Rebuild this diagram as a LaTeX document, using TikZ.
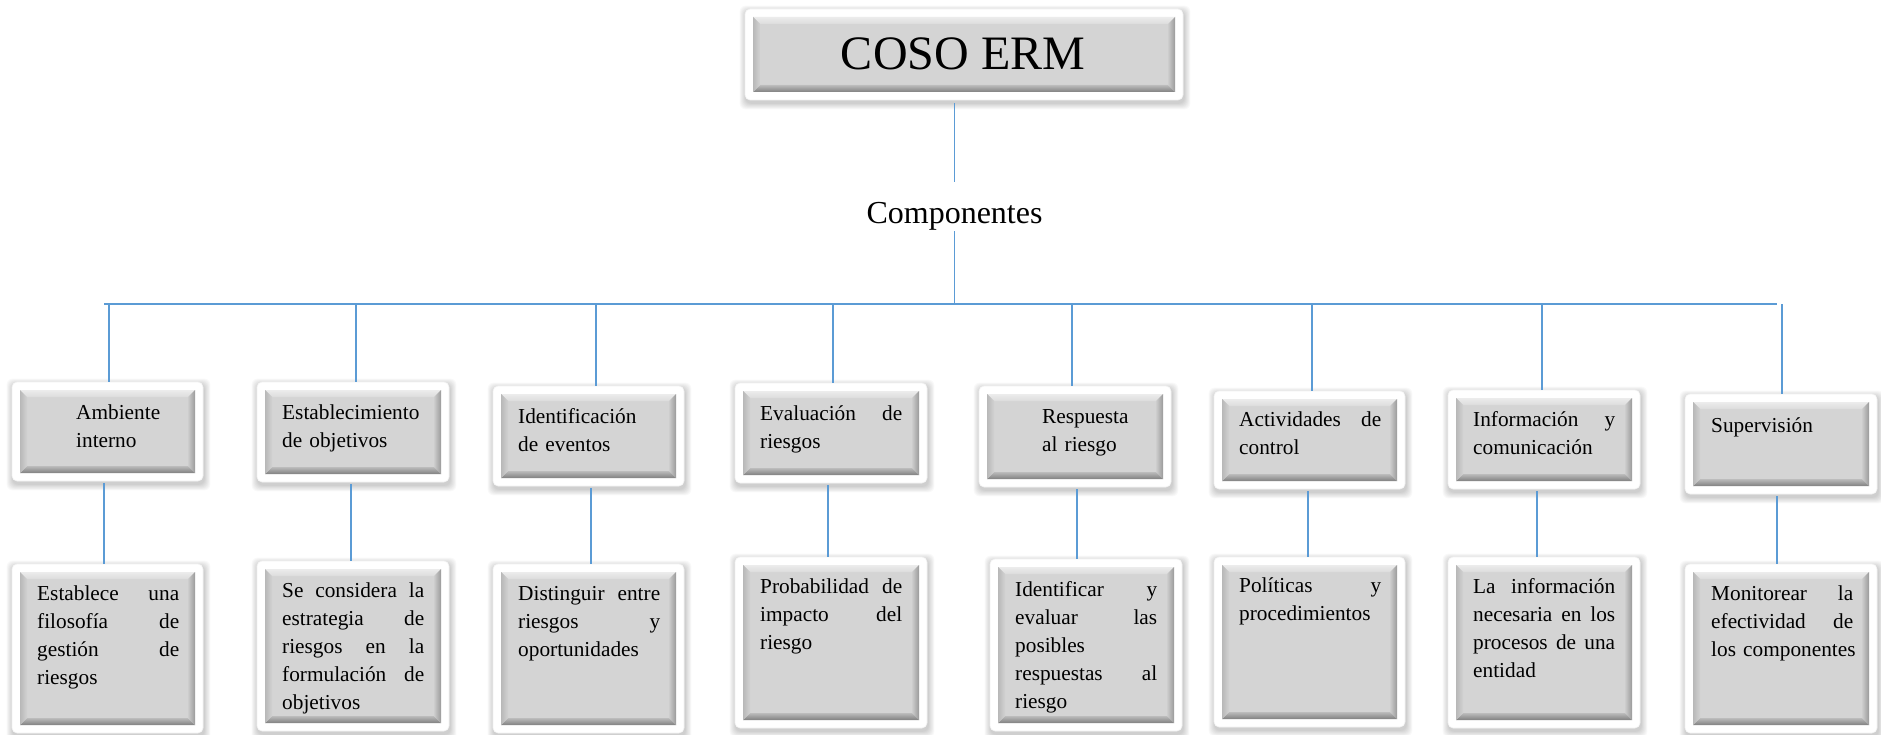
\documentclass[tikz,border=0pt]{standalone}
\usepackage{fontspec}
\setmainfont{Liberation Serif}
\definecolor{lnblue}{HTML}{5B9BD5}
\definecolor{bvbase}{HTML}{D4D4D4}
\definecolor{bvtopo}{HTML}{ECECEC}
\definecolor{bvtopi}{HTML}{DCDCDC}
\definecolor{bvboto}{HTML}{808080}
\definecolor{bvboti}{HTML}{BCBCBC}
\definecolor{bvlfo}{HTML}{B8B8B8}
\definecolor{bvlfi}{HTML}{D2D2D2}
\definecolor{bvrto}{HTML}{9A9A9A}
\definecolor{bvrti}{HTML}{CDCDCD}
\newcommand\erbev[4]{%
  \pgfmathsetmacro\ba{#1}\pgfmathsetmacro\bb{#2}\pgfmathsetmacro\bc{#3}\pgfmathsetmacro\bd{#4}%
  \fill[bvbase] (\ba,\bb) rectangle (\bc,\bd);
  \shade[top color=bvtopo,bottom color=bvtopi] (\ba,\bb) -- (\bc,\bb) -- (\bc-7,\bb+7) -- (\ba+7,\bb+7) -- cycle;
  \shade[top color=bvboti,bottom color=bvboto] (\ba,\bd) -- (\bc,\bd) -- (\bc-7,\bd-7) -- (\ba+7,\bd-7) -- cycle;
  \shade[left color=bvlfo,right color=bvlfi] (\ba,\bb) -- (\ba+7,\bb+7) -- (\ba+7,\bd-7) -- (\ba,\bd) -- cycle;
  \shade[left color=bvrti,right color=bvrto] (\bc,\bb) -- (\bc-7,\bb+7) -- (\bc-7,\bd-7) -- (\bc,\bd) -- cycle;
}
\newcommand\erbox[5]{%
  \foreach \k in {1,...,8}{%
    \fill[black,opacity=0.022,rounded corners=6pt] ({#2-0.8*\k+1},{#3-0.8*\k+3}) rectangle ({#4+0.8*\k+1},{#5+0.8*\k+3});}
  \node[wframe,minimum width={(#4-#2)*1pt},minimum height={(#5-#3)*1pt}] (#1) at ({(#2+#4)/2},{(#3+#5)/2}) {};
  \erbev{#2+8}{#3+8}{#4-8}{#5-8}%
}
\newcommand\jl[1]{\makebox[142pt][s]{\spaceskip=0pt\xspaceskip=0pt\relax #1}}
\begin{document}
\begin{tikzpicture}[x=1pt,y=-1pt,
  wframe/.style={rectangle,rounded corners=5pt,fill=white,draw=black!5,line width=0.6pt,inner sep=0pt,outer sep=0pt},
  conn/.style={draw=lnblue,line width=1.3pt},
  txt/.style={anchor=north west,inner sep=0pt,text width=142pt,align=left,font=\fontsize{21.3}{28}\selectfont}]
\useasboundingbox[fill=white] (0,0) rectangle (1881,735);

% title
\erbox{title}{745}{9}{1183}{100}
\node[anchor=base,inner sep=0pt,font=\fontsize{48}{56}\selectfont] (ttltxt) at (963,70) {COSO ERM};
\node[anchor=base,inner sep=0pt,text height=42pt,text depth=7pt,font=\fontsize{32}{38}\selectfont] (comp) at (954.5,224) {Componentes};

% component boxes
\erbox{c1}{12}{382}{203}{481}
\erbox{c2}{257}{382}{449}{482}
\erbox{c3}{493}{386}{684}{486}
\erbox{c4}{735}{383}{927}{483}
\erbox{c5}{979}{386}{1171}{487}
\erbox{c6}{1214}{391}{1405}{489}
\erbox{c7}{1448}{390}{1640}{489}
\erbox{c8}{1685}{394}{1877}{494}
% description boxes
\erbox{d1}{12}{564}{203}{733}
\erbox{d2}{257}{561}{449}{731}
\erbox{d3}{493}{564}{684}{733}
\erbox{d4}{735}{557}{927}{728}
\erbox{d5}{990}{559}{1182}{731}
\erbox{d6}{1214}{557}{1405}{727}
\erbox{d7}{1448}{557}{1640}{728}
\erbox{d8}{1685}{564}{1877}{733}

% texts
\node[txt] (tc1) at (76,{419-19.6}) {\strut Ambiente\\interno};
\node[txt] (tc2) at (282,{419-19.6}) {\strut Establecimiento\\de objetivos};
\node[txt] (tc3) at (518,{423-19.6}) {\strut Identificación\\de eventos};
\node[txt] (tc4) at (760,{420-19.6}) {\strut\jl{Evaluación de}\\riesgos};
\node[txt] (tc5) at (1042,{423-19.6}) {\strut Respuesta\\al riesgo};
\node[txt] (tc6) at (1239,{426-19.6}) {\strut\jl{Actividades de}\\control};
\node[txt] (tc7) at (1473,{426-19.6}) {\strut\jl{Información y}\\comunicación};
\node[txt] (tc8) at (1711,{432-19.6}) {\strut Supervisión};

\node[txt] (td1) at (37,{600-19.6}) {\strut\jl{Establece una}\\\jl{filosofía de}\\\jl{gestión de}\\riesgos};
\node[txt] (td2) at (282,{597-19.6}) {\strut\jl{Se considera la}\\\jl{estrategia de}\\\jl{riesgos en la}\\\jl{formulación de}\\objetivos};
\node[txt] (td3) at (518,{600-19.6}) {\strut\jl{Distinguir entre}\\\jl{riesgos y}\\oportunidades};
\node[txt] (td4) at (760,{593-19.6}) {\strut\jl{Probabilidad de}\\\jl{impacto del}\\riesgo};
\node[txt] (td5) at (1015,{596-19.6}) {\strut\jl{Identificar y}\\\jl{evaluar las}\\posibles\\\jl{respuestas al}\\riesgo};
\node[txt] (td6) at (1239,{592-19.6}) {\strut\jl{Políticas y}\\procedimientos};
\node[txt] (td7) at (1473,{593-19.6}) {\strut\jl{La información}\\\jl{necesaria en los}\\\jl{procesos de una}\\entidad};
\node[txt] (td8) at (1711,{600-19.6}) {\strut\jl{Monitorear la}\\\jl{efectividad de}\\\mbox{los componentes}};

% connectors
\coordinate (busL) at (104,304);
\coordinate (busR) at (1777,304);
\draw[conn] (title.south -| comp.north) ++(0,3) -- (comp.north);
\draw[conn] (comp.south) -- (comp.south |- busL);
\draw[conn] (busL) -- (busR);
\foreach \i/\x in {1/109,2/356,3/596,4/833,5/1072,6/1312,7/1542,8/1782}{
  \coordinate (b\i) at (\x,304);
  \draw[conn] (b\i) -- (b\i |- c\i.north);
}
\foreach \i/\x in {1/104,2/351,3/591,4/828,5/1077,6/1308,7/1537,8/1777}{
  \coordinate (v\i) at (\x,0);
  \draw[conn] ([yshift=-2pt]c\i.south -| v\i) -- (d\i.north -| v\i);
}
\end{tikzpicture}
\end{document}
